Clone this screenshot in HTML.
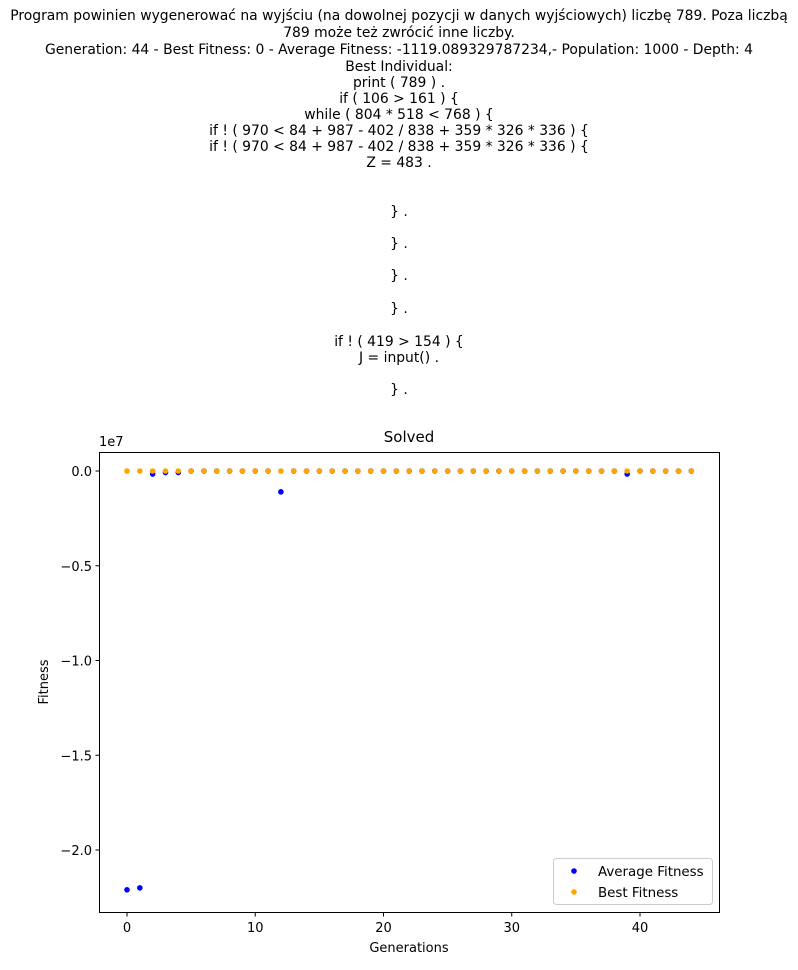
<!DOCTYPE html>
<html><head><meta charset="utf-8"><style>
html,body{margin:0;padding:0;background:#fff;}
body{width:798px;height:965px;overflow:hidden;font-family:"Liberation Sans","DejaVu Sans",sans-serif;}
svg text{font-family:"DejaVu Sans","Liberation Sans",sans-serif;}
</style></head><body>
<svg id="chart" width="798" height="965" xmlns="http://www.w3.org/2000/svg">
<g font-size="13.9" text-anchor="middle" fill="#000">
<text x="399" y="20">Program powinien wygenerować na wyjściu (na dowolnej pozycji w danych wyjściowych) liczbę 789. Poza liczbą</text>
<text x="399" y="37">789 może też zwrócić inne liczby.</text>
<text x="399" y="54">Generation: 44 - Best Fitness: 0 - Average Fitness: -1119.089329787234,- Population: 1000 - Depth: 4</text>
<text x="399" y="71">Best Individual:</text>
<text x="399" y="87">print ( 789 ) .</text>
<text x="399" y="103">if ( 106 &gt; 161 ) {</text>
<text x="399" y="119">while ( 804 * 518 &lt; 768 ) {</text>
<text x="399" y="135">if ! ( 970 &lt; 84 + 987 - 402 / 838 + 359 * 326 * 336 ) {</text>
<text x="399" y="151">if ! ( 970 &lt; 84 + 987 - 402 / 838 + 359 * 326 * 336 ) {</text>
<text x="399" y="167">Z = 483 .</text>
<text x="399" y="216">} .</text>
<text x="399" y="248">} .</text>
<text x="399" y="280">} .</text>
<text x="399" y="313">} .</text>
<text x="399" y="346">if ! ( 419 &gt; 154 ) {</text>
<text x="399" y="362">J = input() .</text>
<text x="399" y="394">} .</text>
</g>
<text x="409" y="442" font-size="15" text-anchor="middle">Solved</text>
<rect x="99.5" y="452.5" width="620" height="460" fill="none" stroke="#000" stroke-width="1"/>
<g id="xticks"></g><g id="yticks"></g><g id="points"></g>
<text x="99" y="446" font-size="13">1e7</text>
<text x="409" y="952" font-size="13" text-anchor="middle">Generations</text>
<text x="48" y="682" font-size="13" text-anchor="middle" transform="rotate(-90 48 682)">Fitness</text>
<g>
<rect x="553.5" y="858.5" width="159" height="46" rx="3" fill="#fff" stroke="#ccc"/>
<circle cx="574" cy="871" r="2.8" fill="blue"/>
<text x="598" y="876" font-size="13.4">Average Fitness</text>
<circle cx="574" cy="892" r="2.8" fill="orange"/>
<text x="598" y="897" font-size="13.4">Best Fitness</text>
</g>
</svg>
<script>
const generations=[0,1,2,3,4,5,6,7,8,9,10,11,12,13,14,15,16,17,18,19,20,21,22,23,24,25,26,27,28,29,30,31,32,33,34,35,36,37,38,39,40,41,42,43,44];
const avgFitness=[-2.21e7,-2.20e7,-1.6e5,-8e4,-8e4,-1200,-1100,-1100,-1100,-1100,-1100,-1100,-1.1e6,-1100,-1100,-1100,-1100,-1100,-1100,-1100,-1100,-1100,-1100,-1100,-1100,-1100,-1100,-1100,-1100,-1100,-1100,-1100,-1100,-1100,-1100,-1100,-1100,-1100,-1100,-1.6e5,-1100,-1100,-1100,-1100,-1119];
const bestFitness=[0,0,0,0,0,0,0,0,0,0,0,0,0,0,0,0,0,0,0,0,0,0,0,0,0,0,0,0,0,0,0,0,0,0,0,0,0,0,0,0,0,0,0,0,0];
const xTicks=[0,10,20,30,40];
const yTicks=[0,-0.5e7,-1e7,-1.5e7,-2e7];
const yTickLabels=["0.0","\u22120.5","\u22121.0","\u22121.5","\u22122.0"];
const NS="http://www.w3.org/2000/svg";
function xs(v){return 127+v*12.825;}
function ys(v){return 471-v/1e7*189.5;}
function mk(t,a,p){const e=document.createElementNS(NS,t);for(const k in a)e.setAttribute(k,a[k]);p.appendChild(e);return e;}
const xg=document.getElementById('xticks'),yg=document.getElementById('yticks'),pg=document.getElementById('points');
xTicks.forEach(v=>{
const l=mk('line',{x1:xs(v),x2:xs(v),y1:912.5,y2:916.5,stroke:'#000'},xg);


const t=mk('text',{x:xs(v),y:932,'font-size':13,'text-anchor':'middle'},xg);t.textContent=v;


});
yTicks.forEach((v,i)=>{
const l=mk('line',{x1:95.5,x2:99.5,y1:ys(v),y2:ys(v),stroke:'#000'},yg);


const t=mk('text',{x:92,y:ys(v)+5,'font-size':13,'text-anchor':'end'},yg);t.textContent=yTickLabels[i];


});
generations.forEach((g,i)=>{
const c=mk('circle',{cx:xs(g),cy:ys(avgFitness[i]),r:2.8,fill:'blue'},pg);


});
generations.forEach((g,i)=>{
const c=mk('circle',{cx:xs(g),cy:ys(bestFitness[i]),r:2.8,fill:'orange'},pg);


});
</script>
</body></html>
